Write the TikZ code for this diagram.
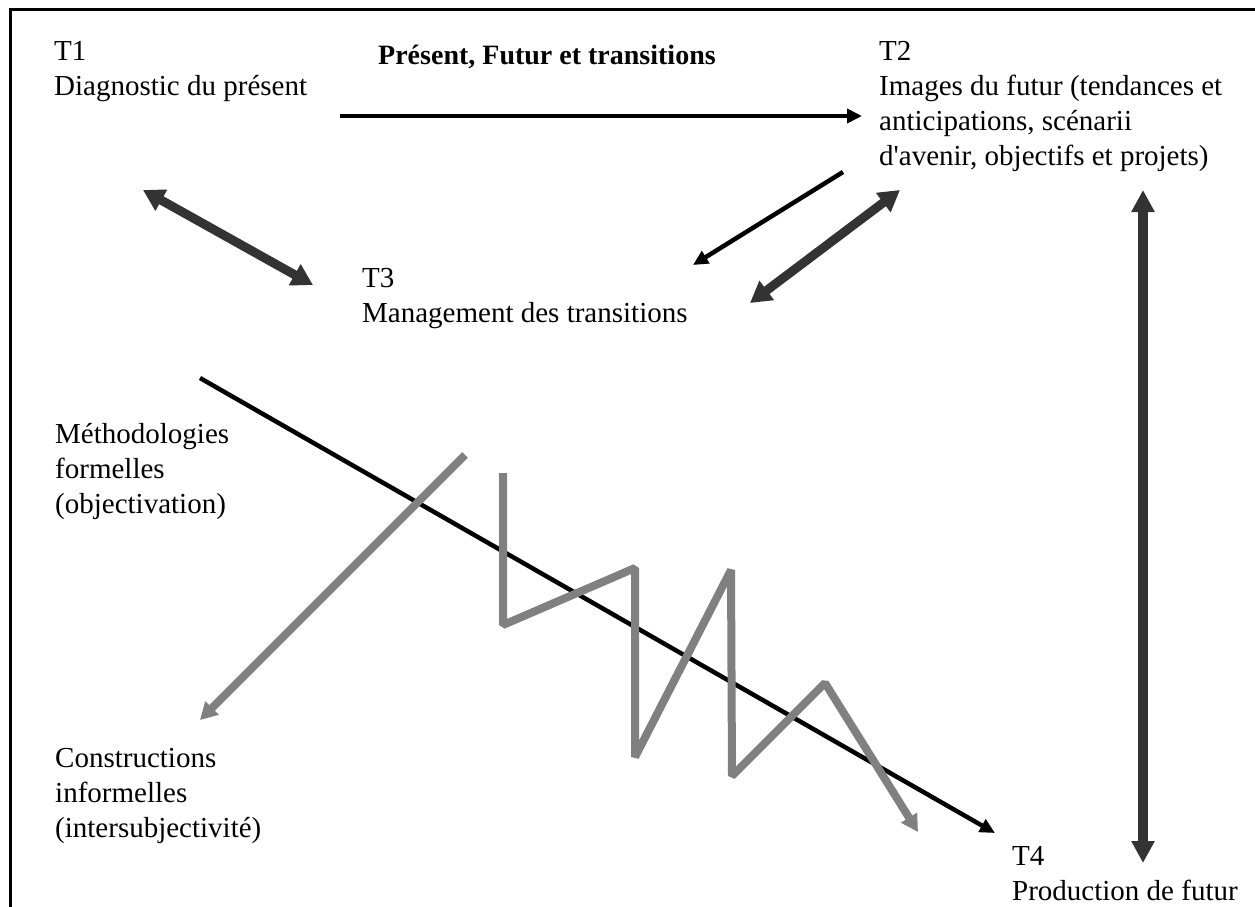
\documentclass[tikz,border=0pt]{standalone}
\usepackage{fontspec}
\setmainfont{Liberation Serif}
\newfontfamily\nolig{Liberation Serif}
\usetikzlibrary{arrows.meta}
\definecolor{darkarrow}{HTML}{333333}
\definecolor{grayarrow}{HTML}{808080}
\begin{document}
\begin{tikzpicture}[x=1pt,y=-1pt,
  lbl/.style={anchor=base west, inner sep=0pt, align=left, font=\fontsize{29}{35}\selectfont},
  ttl/.style={anchor=base west, inner sep=0pt, font=\fontsize{28}{32}\selectfont\bfseries},
  blackarrow/.style={line width=4.5pt, draw=black, -{Triangle[length=15pt,width=14pt]}},
  darkdbl/.style={line width=9pt, draw=darkarrow, {Triangle[length=21pt,width=23pt]}-{Triangle[length=21pt,width=23pt]}},
  vdbl/.style={line width=10pt, draw=darkarrow, {Triangle[length=22pt,width=22pt]}-{Triangle[length=22pt,width=22pt]}},
  grayarrow/.style={line width=8pt, draw=grayarrow, line join=bevel, -{Triangle[length=17pt,width=18pt]}},
  frame/.style={line width=3pt, draw=black}
]
\useasboundingbox (0,0) rectangle (1255,907);
\draw[frame] (1257,10) -- (10,10) -- (10,909);

\node[lbl] (t1) at (54,95) {T1\\Diagnostic du présent};
\node[ttl] (title) at (378,65) {Présent, Futur et transitions};
\node[lbl] (t2) at (879,165) {T2\\Images du futur (tendances et\\anticipations, scénarii\\d{\nolig '}avenir, objectifs et projets)};
\node[lbl] (t3) at (362,322) {T3\\Management des transitions};
\node[lbl] (meth) at (55,513) {Méthodologies\\formelles\\(objectivation)};
\node[lbl] (cons) at (55,837) {Constructions\\informelles\\(intersubjectivité)};
\node[lbl] (t4) at (1012,900) {T4\\Production de futur};

\coordinate (a1s) at (340,116);  \coordinate (a1e) at (862,116);
\coordinate (a2s) at (143,190);  \coordinate (a2e) at (313,285);
\coordinate (a3s) at (843,172);  \coordinate (a3e) at (693,265);
\coordinate (a4s) at (750,303);  \coordinate (a4e) at (900,190);
\coordinate (a5s) at (1143,190); \coordinate (a5e) at (1143,863);
\coordinate (a6s) at (200,378);  \coordinate (a6e) at (995,833);
\coordinate (g1s) at (465,455);  \coordinate (g1e) at (200,720);
\coordinate (z0) at (503,473);
\coordinate (z1) at (503,625);
\coordinate (z2) at (635,568);
\coordinate (z3) at (635,757);
\coordinate (z4) at (731,570);
\coordinate (z5) at (732,776);
\coordinate (z6) at (825,683);
\coordinate (z7) at (918,832);

\draw[blackarrow] (a1s) -- (a1e);
\draw[darkdbl] (a2s) -- (a2e);
\draw[blackarrow] (a3s) -- (a3e);
\draw[darkdbl] (a4s) -- (a4e);
\draw[vdbl] (a5s) -- (a5e);
\draw[blackarrow] (a6s) -- (a6e);
\draw[grayarrow] (g1s) -- (g1e);
\draw[grayarrow] (z0) -- (z1) -- (z2) -- (z3) -- (z4) -- (z5) -- (z6) -- (z7);
\end{tikzpicture}
\end{document}
